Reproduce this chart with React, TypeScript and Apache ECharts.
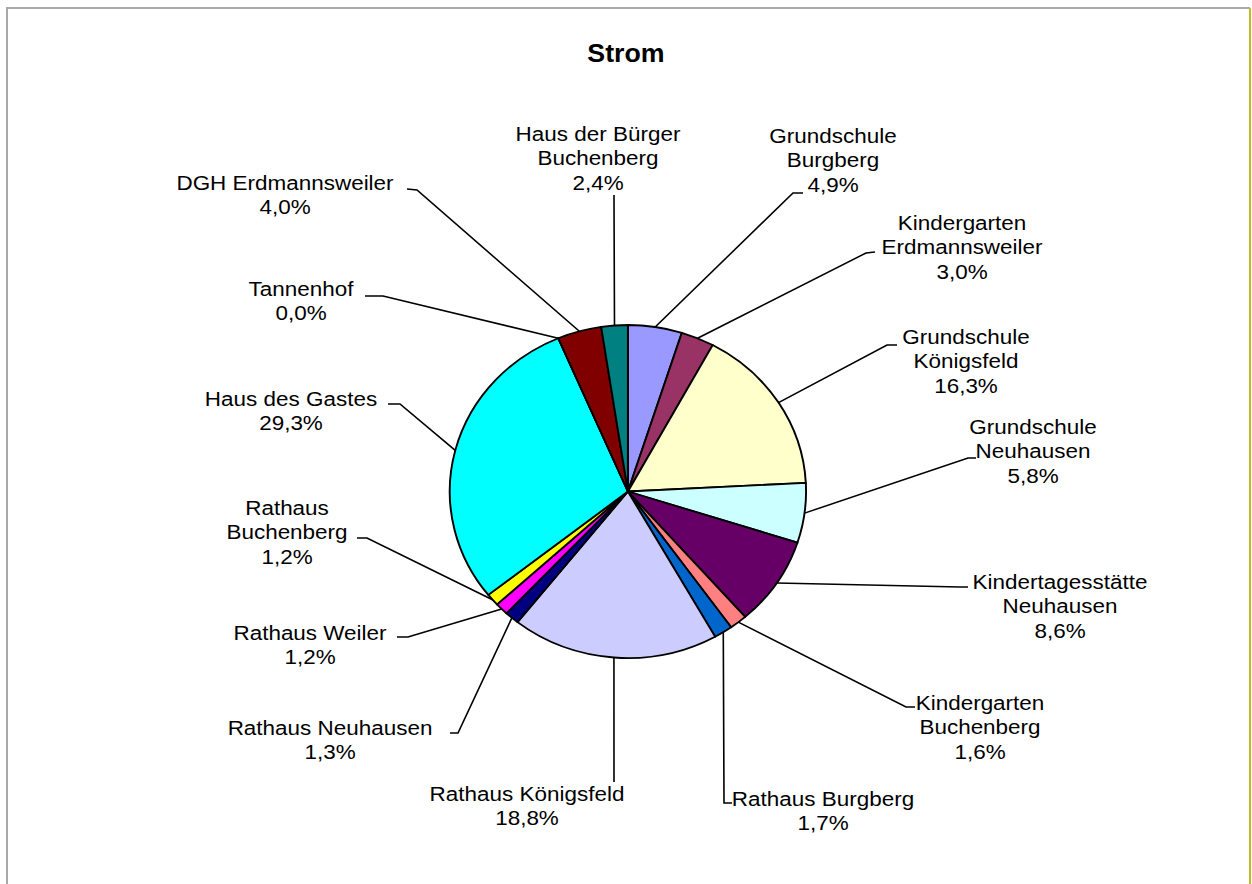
import React, { useEffect, useRef } from "react";
import * as echarts from "echarts";

// ---- data ----
const categories = [
  "Grundschule\nBurgberg",
  "Kindergarten\nErdmannsweiler",
  "Grundschule\nKönigsfeld",
  "Grundschule\nNeuhausen",
  "Kindertagesstätte\nNeuhausen",
  "Kindergarten\nBuchenberg",
  "Rathaus Burgberg",
  "Rathaus Königsfeld",
  "Rathaus Neuhausen",
  "Rathaus Weiler",
  "Rathaus\nBuchenberg",
  "Haus des Gastes",
  "Tannenhof",
  "DGH Erdmannsweiler",
  "Haus der Bürger\nBuchenberg",
];
const values = [4.9, 3.0, 16.3, 5.8, 8.6, 1.6, 1.7, 18.8, 1.3, 1.2, 1.2, 29.3, 0.0, 4.0, 2.4];
const colors = [
  "#9999FF", "#993366", "#FFFFCC", "#CCFFFF", "#660066", "#FF8080", "#0066CC",
  "#CCCCFF", "#000080", "#FF00FF", "#FFFF00", "#00FFFF", "#800080", "#800000", "#008080",
];

// ---- layout (page pixels) ----
const SX = 1.07; // horizontal stretch of the original picture
const CHART_W = 1170;
const CHART_H = 884;
const CENTER = [627.9, 491.5];
const RADIUS = 166.5;
// label block centre, leader elbow, leader end
const labelCenters = [
  [833, 160], [962, 247], [966, 361], [1033, 451], [1060, 606], [980, 727], [823, 811],
  [527, 806], [330, 740], [310, 645], [287, 532], [291, 411], [301, 301], [285, 195], [598, 158],
];
const leaderElbows = [
  [793, 193], [866, 253], [887, 345], [968, 458], [960, 587], [906, 707], [724, 803],
  [614, 782], [458, 733], [408, 637], [367, 538], [400, 404], [383, 296], [417, 190], [614, 200],
];
const leaderEnds = [
  [803, 193], [875, 252], [897, 345], [976, 458], [968, 587], [915, 707], [732, 803],
  [614, 777], [450, 733], [397, 637], [357, 538], [388, 404], [365, 296], [407, 189], [614, 195],
];

const fmt = (v: number) => v.toFixed(1).replace(".", ",") + "%";

export default function App() {
  const ref = useRef<HTMLDivElement>(null);
  useEffect(() => {
    if (!ref.current) return;
    const chart = echarts.init(ref.current, undefined, { renderer: "svg" });
    const total = values.reduce((a, b) => a + b, 0);
    const cx = CENTER[0] / SX;
    const cy = CENTER[1];
    const edgePoint = (i: number) => {
      let cum = 0;
      for (let k = 0; k < i; k++) cum += values[k];
      const th = (2 * Math.PI * (cum + values[i] / 2)) / total;
      return [cx + RADIUS * Math.sin(th), cy - RADIUS * Math.cos(th)];
    };
    chart.setOption({
      animation: false,
      backgroundColor: "#ffffff",
      title: {
        text: "Strom",
        left: "center",
        top: 41,
        padding: 0,
        textStyle: { fontFamily: "Liberation Sans, Arial, sans-serif", fontWeight: "bold", fontSize: 25, color: "#000" },
      },
      series: [
        {
          type: "pie",
          center: [cx, cy],
          radius: RADIUS,
          startAngle: 90,
          clockwise: true,
          avoidLabelOverlap: false,
          minAngle: 0,
          data: categories.map((name, i) => ({
            name,
            value: values[i],
            itemStyle: { color: colors[i] },
          })),
          itemStyle: { borderColor: "#000", borderWidth: 1.8 },
          emphasis: { disabled: true },
          label: {
            show: true,
            position: "outside",
            formatter: (p: any) => p.name + "\n" + fmt(p.value),
            fontFamily: "Liberation Sans, Arial, sans-serif",
            fontSize: 21,
            lineHeight: 24.5,
            color: "#000",
            align: "center",
          },
          labelLine: { show: true, length: 10, length2: 10, lineStyle: { color: "#000", width: 1.5 } },
          labelLayout: (params: any) => {
            const i = params.dataIndex;
            const start = edgePoint(i);
            return {
              x: labelCenters[i][0] / SX,
              y: labelCenters[i][1],
              align: "center",
              verticalAlign: "middle",
              labelLinePoints: [
                start,
                [leaderElbows[i][0] / SX, leaderElbows[i][1]],
                [leaderEnds[i][0] / SX, leaderEnds[i][1]],
              ],
            };
          },
        },
      ],
    });
    return () => chart.dispose();
  }, []);

  return (
    <div style={{ position: "fixed", left: 0, top: 0, width: 1252, height: 884, background: "#fff", overflow: "hidden" }}>
      <div
        ref={ref}
        style={{
          position: "absolute",
          left: 0,
          top: 0,
          width: CHART_W,
          height: CHART_H,
          transform: `scaleX(${SX})`,
          transformOrigin: "0 0",
        }}
      />
      <div style={{ position: "absolute", left: 6, top: 7, width: 1244, height: 2, background: "#a9a9a9" }} />
      <div style={{ position: "absolute", left: 6, top: 7, width: 2, height: 877, background: "#a9a9a9" }} />
      <div style={{ position: "absolute", left: 1249, top: 8, width: 2, height: 876, background: "#bfbf22" }} />
    </div>
  );
}
